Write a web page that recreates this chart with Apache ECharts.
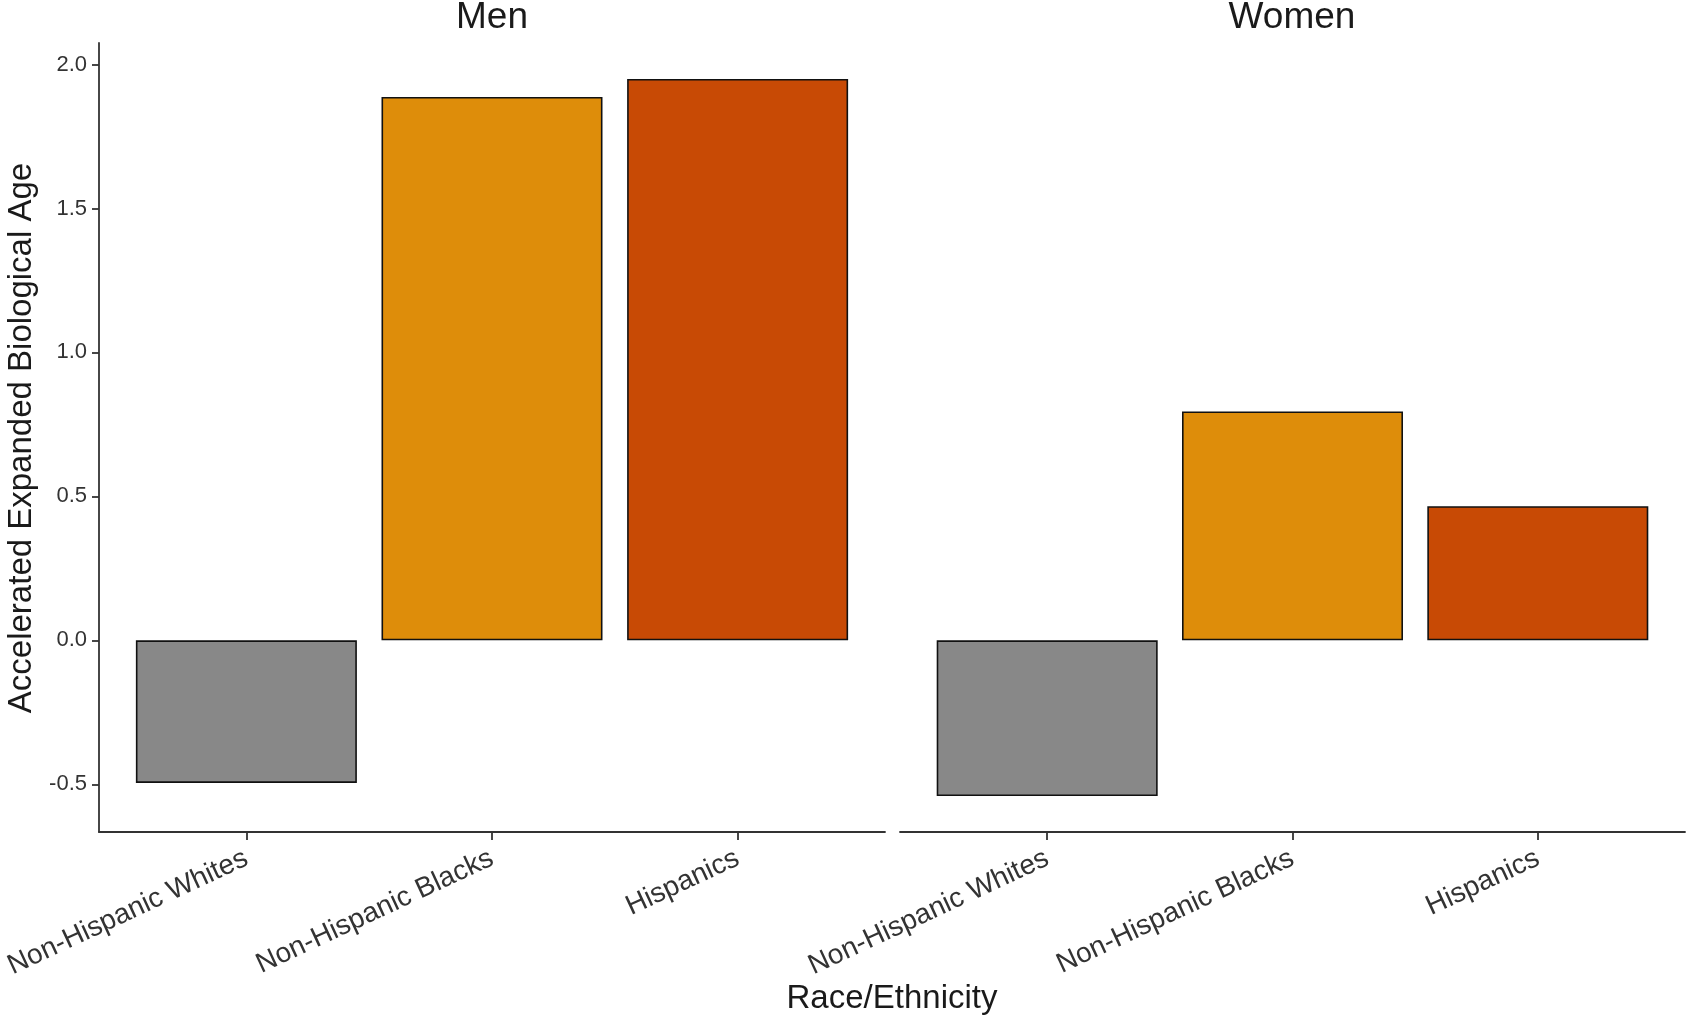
<!DOCTYPE html>
<html>
<head>
<meta charset="utf-8">
<script src="https://cdn.jsdelivr.net/npm/echarts@6/dist/echarts.min.js"></script>
<style>
html,body{margin:0;padding:0;background:#fff;}
#chart{width:1688px;height:1018px;}
</style>
</head>
<body>
<div id="chart"></div>
<script>
const categories = ['Non-Hispanic Whites', 'Non-Hispanic Blacks', 'Hispanics'];
const panels = ['Men', 'Women'];
const menValues = [-0.495, 1.887, 1.950];
const womenValues = [-0.541, 0.795, 0.466];
const barColors = ['#888888', '#DE8D0A', '#C84A05'];
const yTicks = [-0.5, 0, 0.5, 1, 1.5, 2];
const catPositions = [1, 2, 3];
const yTitle = 'Accelerated Expanded Biological Age';
const xTitle = 'Race/Ethnicity';

const FONT = '"Liberation Sans", Arial, Helvetica, sans-serif';
const yMin = -0.6656, yMax = 2.0746;

function makeX(gi) {
  return {
    type: 'value', gridIndex: gi, min: 0.4, max: 3.6,
    splitLine: {show: false},
    axisLine: {show: true, onZero: false, lineStyle: {color: '#333', width: 1.8}},
    axisTick: {show: true, customValues: catPositions, length: 8, lineStyle: {color: '#333', width: 1.8}},
    axisLabel: {
      show: true, customValues: catPositions, rotate: 25, margin: 25,
      fontSize: 28, fontFamily: FONT, color: '#333',
      formatter: v => categories[Math.round(v) - 1]
    }
  };
}
function makeY(gi, showAxis) {
  return {
    type: 'value', gridIndex: gi, min: yMin, max: yMax,
    splitLine: {show: false},
    axisLine: {show: showAxis, onZero: false, lineStyle: {color: '#333', width: 1.8}},
    axisTick: {show: showAxis, customValues: yTicks, length: 7, lineStyle: {color: '#333', width: 1.8}},
    axisLabel: {
      show: showAxis, customValues: yTicks, margin: 12,
      fontSize: 22, fontFamily: FONT, color: '#333',
      formatter: v => v.toFixed(1)
    }
  };
}
function makeSeries(gi, values) {
  return {
    type: 'bar', xAxisIndex: gi, yAxisIndex: gi,
    barWidth: 221,
    data: values.map((v, i) => ({
      value: [catPositions[i], v],
      itemStyle: {color: barColors[i], borderColor: '#111', borderWidth: 1.6}
    })),
    silent: true
  };
}

const chart = echarts.init(document.getElementById('chart'), null, {renderer: 'canvas'});
chart.setOption({
  animation: false,
  backgroundColor: '#fff',
  grid: [
    {left: 99, top: 43, width: 786, height: 789},
    {left: 900, top: 43, width: 785, height: 789}
  ],
  xAxis: [makeX(0), makeX(1)],
  yAxis: [makeY(0, true), makeY(1, false)],
  series: [makeSeries(0, menValues), makeSeries(1, womenValues)],
  graphic: [
    {type: 'text', x: 492, y: 18, style: {text: panels[0], font: '37px ' + FONT, fill: '#1a1a1a', textAlign: 'center', textVerticalAlign: 'middle'}},
    {type: 'text', x: 1292, y: 18, style: {text: panels[1], font: '37px ' + FONT, fill: '#1a1a1a', textAlign: 'center', textVerticalAlign: 'middle'}},
    {type: 'text', x: 892, y: 999, style: {text: xTitle, font: '33px ' + FONT, fill: '#1a1a1a', textAlign: 'center', textVerticalAlign: 'middle'}},
    {type: 'text', x: 22, y: 438, rotation: Math.PI / 2, style: {text: yTitle, font: '33px ' + FONT, fill: '#1a1a1a', textAlign: 'center', textVerticalAlign: 'middle'}}
  ]
});
</script>
</body>
</html>
